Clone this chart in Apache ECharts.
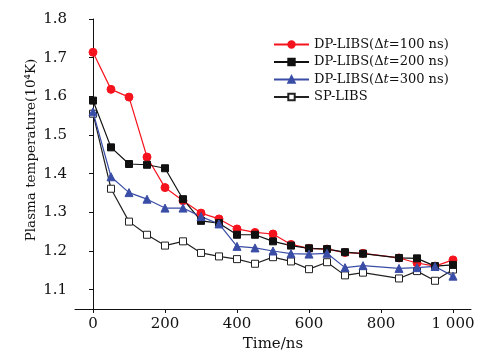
<!DOCTYPE html>
<html>
<head>
<meta charset="utf-8">
<script src="https://cdn.jsdelivr.net/npm/echarts@6/dist/echarts.min.js"></script>
<style>
  html, body { margin: 0; padding: 0; background: #fff; }
  #chart { width: 478px; height: 362px; }
</style>
</head>
<body>
<div id="chart"></div>
<script>
// time (ns); no sample at 800
const times = [0, 50, 100, 150, 200, 250, 300, 350, 400, 450, 500, 550, 600, 650, 700, 750, 850, 900, 950, 1000]
const dp100 = [1.714, 1.618, 1.598, 1.443, 1.364, 1.330, 1.298, 1.283, 1.257, 1.248, 1.244, 1.217, 1.207, 1.205, 1.196, 1.194, 1.182, 1.169, 1.161, 1.177]
const dp200 = [1.589, 1.468, 1.425, 1.423, 1.414, 1.334, 1.278, 1.272, 1.242, 1.242, 1.225, 1.214, 1.207, 1.205, 1.197, 1.193, 1.182, 1.181, 1.161, 1.164]
const dp300 = [1.560, 1.392, 1.351, 1.334, 1.311, 1.311, 1.289, 1.270, 1.212, 1.208, 1.200, 1.193, 1.192, 1.194, 1.157, 1.162, 1.155, 1.157, 1.160, 1.135]
const sp = [1.555, 1.361, 1.276, 1.242, 1.214, 1.225, 1.195, 1.186, 1.179, 1.167, 1.184, 1.173, 1.153, 1.171, 1.137, 1.144, 1.129, 1.148, 1.123, 1.152]

const xTicks = [0, 200, 400, 600, 800, 1000]
const xTickLabels = ['0', '200', '400', '600', '800', '1 000']
const yTicks = [1.1, 1.2, 1.3, 1.4, 1.5, 1.6, 1.7, 1.8]
const yTickLabels = ['1.1', '1.2', '1.3', '1.4', '1.5', '1.6', '1.7', '1.8']

const seriesNames = ['DP-LIBS(Δt=100 ns)', 'DP-LIBS(Δt=200 ns)', 'DP-LIBS(Δt=300 ns)', 'SP-LIBS']

const FONT = 'DejaVu Serif'

function pairs(ys) {
  return times.map((t, i) => [t, ys[i]])
}

function line(name, ys, color, symbol, size, fill) {
  return {
    name: name,
    type: 'line',
    data: pairs(ys),
    symbol: symbol,
    symbolSize: size,
    showSymbol: true,
    lineStyle: { color: color, width: 1.2 },
    itemStyle: { color: fill || color, borderColor: color, borderWidth: 1 },
    emphasis: { disabled: true },
    z: fill ? 2 : 3
  }
}

const chart = echarts.init(document.getElementById('chart'))

chart.setOption({
  animation: false,
  backgroundColor: '#fff',
  grid: { left: 75, right: 7, top: 19, bottom: 53 },
  legend: {
    orient: 'vertical',
    left: 268,
    top: 33,
    itemWidth: 35,
    itemHeight: 8,
    itemGap: 4.5,
    data: seriesNames,
    formatter: function (n) {
      return n.replace('Δt', 'Δ{i|t}')
    },
    textStyle: {
      fontFamily: FONT,
      fontSize: 13,
      lineHeight: 13,
      color: '#111',
      rich: {
        i: { fontFamily: FONT, fontSize: 13, fontStyle: 'italic', color: '#111' }
      }
    }
  },
  xAxis: {
    type: 'value',
    min: -50,
    max: 1050,
    name: 'Time/ns',
    nameLocation: 'middle',
    nameGap: 26,
    nameTextStyle: { fontFamily: FONT, fontSize: 15, color: '#111' },
    axisLine: { lineStyle: { color: '#111', width: 1 } },
    axisTick: { show: true, length: 4, customValues: xTicks, lineStyle: { color: '#111' } },
    axisLabel: {
      customValues: xTicks,
      margin: 8,
      fontFamily: FONT,
      fontSize: 15,
      color: '#111',
      formatter: function (v) {
        const i = xTicks.indexOf(v)
        return i >= 0 ? xTickLabels[i] : ''
      }
    },
    splitLine: { show: false }
  },
  yAxis: {
    type: 'value',
    min: 1.05,
    max: 1.8,
    axisLine: { show: true, lineStyle: { color: '#111', width: 1 } },
    axisTick: { show: true, length: 4, customValues: yTicks, lineStyle: { color: '#111' } },
    axisLabel: {
      customValues: yTicks,
      margin: 8,
      fontFamily: FONT,
      fontSize: 15,
      color: '#111',
      formatter: function (v) {
        const i = yTicks.findIndex(t => Math.abs(t - v) < 1e-6)
        return i >= 0 ? yTickLabels[i] : ''
      }
    },
    splitLine: { show: false }
  },
  graphic: [{
    type: 'text',
    x: 31,
    y: 150,
    rotation: Math.PI / 2,
    style: {
      text: 'Plasma temperature(10⁴K)',
      fontFamily: FONT,
      fontSize: 13.5,
      fill: '#111',
      textAlign: 'center',
      textVerticalAlign: 'middle'
    }
  }],
  series: [
    line(seriesNames[0], dp100, '#f5141e', 'circle', 8),
    line(seriesNames[1], dp200, '#111111', 'rect', 7),
    line(seriesNames[2], dp300, '#3a4da6', 'triangle', 8),
    line(seriesNames[3], sp, '#222222', 'rect', 7, '#ffffff')
  ]
})
</script>
</body>
</html>
